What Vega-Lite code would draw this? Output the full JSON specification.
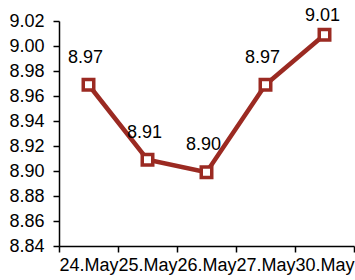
{
  "$schema": "https://vega.github.io/schema/vega-lite/v6.json",
  "autosize": "none",
  "padding": {"left": 59, "top": 21, "right": 1, "bottom": 34},
  "width": 295,
  "height": 225,
  "background": "white",
  "config": {"view": {"stroke": null}, "font": "Liberation Sans"},
  "data": {"values": [
    {"date": "24.May", "value": 8.969, "last": false},
    {"date": "25.May", "value": 8.909, "last": false},
    {"date": "26.May", "value": 8.899, "last": false},
    {"date": "27.May", "value": 8.969, "last": false},
    {"date": "30.May", "value": 9.009, "last": true}
  ]},
  "encoding": {
    "x": {"field": "date", "type": "ordinal", "sort": null,
      "scale": {"paddingInner": 0, "paddingOuter": 0},
      "axis": {"title": null, "labelAngle": 0, "labelFontSize": 18, "labelColor": "black",
        "labelOverlap": false, "labelPadding": 4, "tickBand": "extent", "tickSize": 6,
        "domainColor": "black", "tickColor": "black", "domainWidth": 1.5, "tickWidth": 1.5, "grid": false}},
    "y": {"field": "value", "type": "quantitative",
      "scale": {"domain": [8.84, 9.02], "nice": false, "zero": false},
      "axis": {"title": null, "values": [8.84, 8.86, 8.88, 8.9, 8.92, 8.94, 8.96, 8.98, 9.0, 9.02],
        "format": ".2f", "labelFontSize": 18, "labelColor": "black", "labelPadding": 9,
        "tickSize": 6, "domainColor": "black", "tickColor": "black", "domainWidth": 1.5, "tickWidth": 1.5, "grid": false}}
  },
  "layer": [
    {"mark": {"type": "line", "color": "#9B2A22", "strokeWidth": 4.5}},
    {"mark": {"type": "point", "shape": "square", "size": 110, "filled": true, "fill": "white", "stroke": "#9B2A22", "strokeWidth": 3.5, "opacity": 1}},
    {"transform": [{"filter": "!datum.last"}],
     "mark": {"type": "text", "fontSize": 18, "color": "black", "dy": -22, "dx": -3, "baseline": "alphabetic"},
     "encoding": {"text": {"field": "value", "type": "quantitative", "format": ".2f"}}},
    {"transform": [{"filter": "datum.last"}],
     "mark": {"type": "text", "fontSize": 18, "color": "black", "dy": -14, "dx": -2, "baseline": "alphabetic"},
     "encoding": {"text": {"field": "value", "type": "quantitative", "format": ".2f"}}}
  ]
}
